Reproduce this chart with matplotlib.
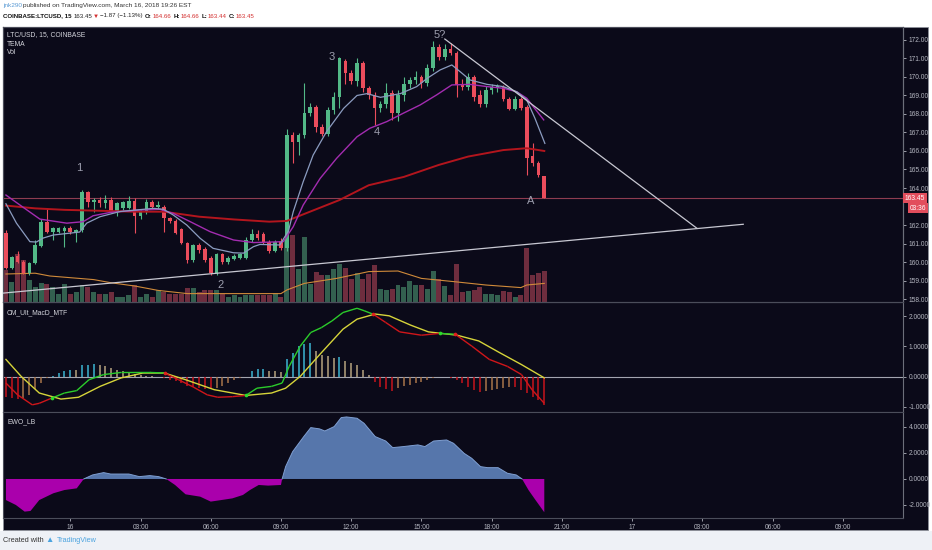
import numpy as np
import matplotlib
matplotlib.use("Agg")
import matplotlib.pyplot as plt
from matplotlib import font_manager
from matplotlib.collections import LineCollection
from matplotlib.patches import Rectangle
import matplotlib.transforms as mtrans

installed = {f.name for f in font_manager.fontManager.ttflist}
NARROW = "Liberation Sans Narrow" if "Liberation Sans Narrow" in installed else "Liberation Sans"
plt.rcParams['font.family'] = ['Liberation Sans', 'DejaVu Sans']

# ---- LTC/USD 15 min candles (bar 0 = 21:15 on March 15)
bar_open = [161.55, 159.68, 160.33, 160.02, 159.42, 159.96, 160.88, 162.18, 161.64, 161.64,
            161.68, 161.84, 161.64, 161.73, 163.80, 163.24, 163.35, 163.21, 163.35, 162.76,
            162.90, 162.90, 163.30, 162.50, 162.72, 163.26, 162.97, 162.99, 162.36, 162.22,
            161.78, 161.05, 160.11, 160.92, 160.70, 160.20, 159.39, 160.41, 160.02, 160.18,
            160.23, 160.23, 161.19, 161.50, 161.50, 161.06, 160.61, 161.15, 160.74, 166.86,
            166.49, 166.86, 168.05, 168.38, 167.30, 166.92, 168.22, 168.92, 170.86, 170.22,
            169.78, 170.76, 169.40, 169.03, 168.32, 168.54, 169.14, 168.05, 169.03, 169.62,
            169.84, 170.00, 169.68, 170.49, 171.62, 171.08, 171.51, 171.30, 169.57, 169.45,
            170.00, 169.03, 168.54, 169.30, 169.40, 169.46, 168.81, 168.27, 168.81, 168.38,
            165.73, 165.35, 164.66]
bar_high = [161.75, 160.35, 160.60, 160.10, 160.00, 161.20, 162.30, 162.90, 161.90, 161.90,
            161.95, 161.95, 161.80, 163.90, 163.85, 163.45, 163.50, 163.62, 163.50, 163.25,
            163.30, 163.55, 163.45, 162.80, 163.40, 163.35, 163.30, 163.10, 162.45, 162.30,
            161.85, 161.10, 161.00, 161.05, 160.80, 160.30, 160.50, 160.50, 160.35, 160.45,
            160.50, 161.35, 161.80, 161.75, 161.60, 161.20, 161.20, 161.30, 167.20, 167.00,
            166.95, 169.68, 168.60, 168.50, 167.45, 168.40, 169.20, 171.10, 170.95, 170.40,
            171.03, 170.85, 169.50, 169.20, 168.70, 169.70, 169.30, 169.30, 170.00, 170.00,
            170.30, 170.10, 170.70, 171.95, 171.80, 171.80, 171.85, 171.40, 169.90, 170.20,
            170.10, 169.30, 169.50, 169.60, 169.60, 169.55, 168.90, 168.95, 168.90, 168.50,
            166.43, 165.45, 164.66]
bar_low = [159.60, 159.60, 159.95, 159.35, 159.30, 159.90, 160.80, 161.55, 161.20, 161.55,
           160.83, 161.50, 161.10, 161.60, 163.00, 162.70, 163.00, 162.90, 162.70, 162.50,
           162.80, 162.85, 161.55, 162.30, 162.60, 162.90, 162.85, 161.64, 162.10, 161.50,
           160.95, 159.95, 160.00, 160.50, 160.00, 159.30, 159.30, 159.90, 159.90, 160.10,
           160.15, 160.15, 161.10, 161.20, 161.00, 160.50, 160.55, 160.65, 160.60, 165.35,
           165.78, 166.70, 167.90, 167.00, 166.80, 166.80, 168.00, 168.30, 169.60, 169.60,
           169.50, 169.20, 168.80, 167.40, 168.10, 168.30, 167.70, 167.60, 168.70, 169.40,
           169.60, 169.40, 169.50, 170.30, 170.90, 170.90, 171.20, 168.90, 169.30, 169.30,
           168.70, 168.40, 168.40, 169.10, 169.20, 168.70, 168.20, 168.20, 168.20, 164.70,
           165.20, 164.60, 163.44]
bar_close = [159.68, 160.29, 160.02, 159.42, 159.96, 160.92, 162.18, 161.64, 161.82, 161.82,
             161.86, 161.62, 161.73, 163.80, 163.26, 163.35, 163.21, 163.35, 162.76, 163.21,
             163.22, 163.30, 162.50, 162.72, 163.26, 162.99, 163.08, 162.36, 162.22, 161.59,
             161.05, 160.11, 160.92, 160.65, 160.11, 159.39, 160.41, 160.02, 160.23, 160.35,
             160.41, 161.19, 161.50, 161.32, 161.08, 160.61, 161.06, 160.74, 166.86, 166.49,
             166.86, 168.05, 168.38, 167.30, 166.92, 168.22, 168.92, 171.03, 170.22, 169.78,
             170.76, 169.40, 169.03, 168.32, 168.54, 169.14, 168.05, 169.03, 169.62, 169.84,
             170.00, 169.68, 170.49, 171.62, 171.08, 171.51, 171.30, 169.57, 169.45, 170.00,
             168.92, 168.54, 169.30, 169.46, 169.50, 168.81, 168.27, 168.81, 168.32, 165.62,
             165.35, 164.70, 163.45]
volume = [800, 500, 1200, 1050, 550, 375, 475, 450, 375, 200,
          450, 200, 250, 425, 375, 250, 200, 200, 250, 125,
          125, 175, 425, 125, 200, 125, 300, 250, 200, 200,
          200, 350, 350, 250, 300, 300, 300, 200, 125, 175,
          125, 175, 175, 175, 175, 175, 225, 125, 1575, 1675,
          825, 1625, 450, 750, 675, 675, 825, 950, 850, 575,
          725, 575, 700, 925, 325, 300, 325, 425, 375, 525,
          425, 425, 325, 775, 575, 400, 175, 950, 250, 275,
          300, 375, 200, 200, 175, 275, 250, 125, 175, 1350,
          675, 725, 775]

# volume moving average (bar, value)
vol_ma_bar = [0, 5, 7.5, 15, 18, 22, 26, 31, 47, 48, 51, 56.5, 62, 67, 71, 76.5, 82, 88, 89, 92]
vol_ma = [700, 720, 650, 560, 480, 400, 290, 210, 210, 300, 465, 590, 760, 775, 590, 510, 425, 360, 425, 465]

# TEMA lines (bar, price)
fast_bar = [0, 1.8, 4.1, 5.2, 6.4, 8.1, 12.6, 13.8, 16.1, 19.5, 25.2, 26.9, 28.6, 30.9, 33.2, 35.4,
            38.9, 40.6, 42.3, 43.4, 46.8, 48.3, 49.1, 50.8, 52.5, 54.8, 57.7, 60, 61.7, 64, 67.4,
            70.2, 72, 74.2, 76.2, 77.6, 79.3, 82.2, 85, 87.3, 89, 90.4, 92.1]
fast_val = [163.15, 162.1, 161.1, 161.08, 161.3, 161.46, 161.62, 162.1, 162.45, 162.73, 162.9, 162.85,
            162.54, 162.0, 161.28, 160.74, 160.5, 160.48, 160.83, 160.95, 160.92, 161.7, 162.72,
            164.34, 165.78, 167.05, 168.3, 169.0, 169.1, 168.9, 169.1, 169.48, 169.93, 170.38,
            170.65, 170.29, 169.84, 169.6, 169.48, 169.2, 168.76, 167.77, 166.41]
mid_bar = [0, 3.6, 5.8, 10.4, 13.2, 14.9, 17.8, 22.9, 26.3, 28.6, 31.5, 34.9, 38.9, 42.3, 47.4,
           49.1, 50.8, 53.7, 56.5, 60, 62.2, 65.1, 67.9, 70.8, 73.6, 76.2, 79.3, 82.2, 85, 87.3, 89, 91.9]
mid_val = [163.62, 162.81, 162.32, 162.1, 162.18, 162.5, 162.68, 162.81, 162.85, 162.63,
           162.18, 161.64, 161.19, 161.05, 161.1, 161.91, 163.08, 164.52, 165.6, 166.77, 167.23,
           167.59, 168.04, 168.49, 169.03, 169.57, 169.6, 169.48, 169.39, 169.2, 168.85, 167.68]
slow_bar = [0, 5, 10, 22, 27, 33, 39, 45, 48, 51, 57, 62, 68, 74, 79, 85, 89, 92]
slow_val = [163.05, 162.9, 162.82, 162.72, 162.72, 162.45, 162.3, 162.18, 162.22, 162.6, 163.35,
            164.15, 164.6, 165.25, 165.7, 166.05, 166.15, 166.0]

# drawn trend lines (bar, price)
support_bar = [-0.5, 126]
support_val = [158.32, 162.04]
resist_bar = [75.0, 118.1]
resist_val = [172.05, 161.82]

# wave labels
wave_text = ["1", "2", "3", "4", "5?", "A"]
wave_bar = [12.6, 36.6, 55.7, 63.4, 74.2, 89.7]
wave_val = [165.08, 158.76, 171.08, 167.0, 172.27, 163.3]

# CM_Ult_MacD_MTF
macd_bar = [0, 2, 4.5, 5.7, 7.8, 10, 12.1, 14.2, 16.7, 19.7, 24.6, 27.1, 29.5, 32, 34.4, 36.2, 38.7,
            41, 42.9, 45.4, 47.2, 48.4, 50.3, 52.1, 53.9, 55.7, 57.6, 60, 61.2, 62.8, 64.9, 67.3,
            71, 74.1, 76.8, 79.6, 82.6, 85.7, 88.1, 89.9, 92]
macd_val = [-0.21, -0.6, -0.93, -0.88, -0.71, -0.54, -0.46, -0.1, 0.07, 0.14, 0.14, 0.12, -0.1,
            -0.34, -0.6, -0.68, -0.66, -0.62, -0.38, -0.32, -0.21, 0.34, 1.01, 1.46, 1.62, 1.84,
            2.12, 2.26, 2.18, 2.06, 1.79, 1.48, 1.37, 1.43, 1.4, 1.01, 0.57, 0.34, 0.07, -0.43, -0.88]
signal_bar = [0, 2.6, 5.7, 9.4, 12.4, 16.1, 19.7, 23.4, 27.1, 30.7, 35.6, 41, 45.4, 47.8, 50.3,
              53.9, 57.6, 60, 63.1, 65.5, 69.2, 72.2, 77.1, 80.8, 84.4, 88.1, 92]
signal_val = [0.57, 0.01, -0.54, -0.74, -0.68, -0.32, -0.04, 0.12, 0.12, -0.1, -0.43, -0.62,
              -0.54, -0.38, 0.01, 0.79, 1.57, 1.9, 2.07, 2.01, 1.7, 1.48, 1.37, 1.18, 0.79, 0.4, -0.04]
cross_bar = [7.8, 27.1, 41, 62.8, 74.1, 76.8]
cross_up = [True, False, True, False, True, False]
hist_val = [-0.66, -0.70, -0.75, -0.70, -0.60, -0.40, -0.20, -0.05, 0.03, 0.12,
            0.20, 0.23, 0.23, 0.37, 0.40, 0.42, 0.40, 0.34, 0.29, 0.21,
            0.18, 0.14, 0.10, 0.07, 0.03, 0.01, -0.02, -0.05, -0.10, -0.15,
            -0.22, -0.30, -0.35, -0.38, -0.40, -0.42, -0.38, -0.30, -0.20, -0.12,
            -0.05, 0.00, 0.18, 0.26, 0.27, 0.20, 0.20, 0.17, 0.57, 0.79,
            1.01, 1.08, 1.12, 0.84, 0.73, 0.68, 0.62, 0.66, 0.51, 0.46,
            0.37, 0.23, 0.07, -0.16, -0.34, -0.41, -0.46, -0.38, -0.32, -0.27,
            -0.21, -0.16, -0.10, -0.04, -0.01, 0.00, -0.03, -0.10, -0.21, -0.34,
            -0.43, -0.49, -0.48, -0.45, -0.41, -0.38, -0.35, -0.35, -0.43, -0.54,
            -0.66, -0.77, -0.93]

# EWO_LB
ewo_bar = [0, 1.7, 3.2, 4.2, 5.7, 8.1, 10, 12.1, 13.3, 14.8, 16.7, 17.9, 21, 22.8, 24.6, 26.1,
           27.4, 28.9, 30.7, 33.2, 35, 36.8, 38.7, 40.5, 41.7, 43.2, 44.8, 47, 47.2, 47.8, 49,
           50.9, 52.1, 53.6, 54.5, 56.1, 57.3, 58.2, 60, 61.2, 63.1, 64.9, 66.1, 67.9, 70.4,
           71.6, 73.1, 75.3, 76.5, 78.3, 79.6, 81.1, 82.3, 84.1, 85.7, 87.2, 88.2, 89.3, 90.5, 92]
ewo_val = [-1.62, -2.0, -2.51, -2.46, -1.62, -1.1, -0.85, -0.72, 0.0, 0.31, 0.49, 0.38, 0.38,
           0.18, 0.26, 0.18, 0.0, -0.46, -1.18, -1.36, -1.74, -1.62, -1.49, -1.23, -0.85, -0.46,
           -0.51, -0.46, 0.0, 0.95, 2.1, 3.26, 3.95, 3.85, 3.69, 4.03, 4.72, 4.77, 4.67, 4.28,
           3.26, 2.92, 2.41, 2.49, 2.62, 2.49, 2.92, 3.0, 2.74, 1.97, 1.59, 0.95, 0.87, 0.87,
           0.44, 0.31, 0.0, -0.85, -1.62, -2.56]

# time axis: hours from midnight March 16, first bar at 21:15 the day before
tick_hours = [0, 3, 6, 9, 12, 15, 18, 21, 24, 27, 30, 33]
tick_text = ["16", "03:00", "06:00", "09:00", "12:00", "15:00", "18:00", "21:00", "17", "03:00", "06:00", "09:00"]
first_bar_hour = -2.75

# price scale labels (163.00 sits under the last-price boxes)
price_ticks = [158, 159, 160, 161, 162, 164, 165, 166, 167, 168, 169, 170, 171, 172]
last_price = 163.45

BG = "#0b0a19"
GRID = "#4b4d5a"
TXT = "#b4b6c0"
UP = "#53b987"
DN = "#eb4d5c"

W, H = 932, 550
def fx(x):
    return x / W
def fy(y):
    return 1 - y / H

fig = plt.figure(figsize=(9.32, 5.5), dpi=100, facecolor="white")
fig.patches.append(Rectangle((fx(3), fy(530)), fx(925), 503 / H, transform=fig.transFigure,
                             facecolor=BG, edgecolor="#8d909a", lw=0.6, zorder=-5))
fig.patches.append(Rectangle((0, 0), 1, 19 / H, transform=fig.transFigure,
                             facecolor="#eef1f6", edgecolor="none", zorder=-5))

ax = fig.add_axes([fx(3), fy(302), 900 / W, 275 / H])
ax_m = fig.add_axes([fx(3), fy(412), 900 / W, 110 / H], sharex=ax)
ax_e = fig.add_axes([fx(3), fy(518), 900 / W, 106 / H], sharex=ax)
ax_v = ax.twinx()
ax.set_zorder(ax_v.get_zorder() + 1)
ax.patch.set_visible(False)
ax_v.patch.set_visible(True)
ax_v.set_facecolor(BG)

for a in (ax, ax_m, ax_e, ax_v):
    a.set_facecolor(BG)
    for s in a.spines.values():
        s.set_color(GRID)
        s.set_linewidth(0.8)
    a.spines["right"].set_color("#6c6f7a")

x = np.arange(len(bar_open))
o = np.array(bar_open)
c = np.array(bar_close)
up = c >= o
col = np.where(up, UP, DN)

# volume
vol_col = np.where(up, "#33604f", "#6e2d3e")
ax_v.bar(x, volume, width=0.85, color=vol_col, linewidth=0)
ax_v.plot(vol_ma_bar, vol_ma, color="#d08a3a", lw=0.8)
ax_v.set_ylim(0, 6875)
ax_v.set_yticks([])

# candles
ax.vlines(x, bar_low, bar_high, colors=col, lw=0.8, zorder=3)
ax.bar(x, np.maximum(np.abs(c - o), 0.04), bottom=np.minimum(o, c), width=0.62,
       color=col, linewidth=0, zorder=4)

ax.axhline(last_price, color="#8e3c50", lw=0.8, zorder=2)
ax.plot(slow_bar, slow_val, color="#b3151d", lw=1.4, zorder=5)
ax.plot(mid_bar, mid_val, color="#a32cb0", lw=1.0, zorder=5)
ax.plot(fast_bar, fast_val, color="#8b9cc0", lw=0.9, zorder=5)
ax.plot(support_bar, support_val, color="#c8c8d2", lw=0.9, zorder=6)
ax.plot(resist_bar, resist_val, color="#c8c8d2", lw=0.9, zorder=6)
for t, bx, by in zip(wave_text, wave_bar, wave_val):
    ax.text(bx, by, t, color="#9d9eae", fontsize=8, ha="center", va="center", zorder=7)

ax.set_xlim(-0.5, 153.3)
ax.set_ylim(157.84, 172.70)
ax.yaxis.tick_right()
ax.set_yticks(price_ticks)
ax.yaxis.set_major_formatter(matplotlib.ticker.FormatStrFormatter("%.2f"))

# price labels on the axis
tr = mtrans.blended_transform_factory(ax.transAxes, ax.transData)
ax.text(1.002, last_price, f"{last_price:.2f}", transform=tr, color="white", fontsize=4.8,
        va="center", ha="left", zorder=10,
        bbox=dict(boxstyle="square,pad=0.25", facecolor="#e24d5c", edgecolor="none"))
ax.annotate("03:36", xy=(1.0, last_price), xycoords=tr, xytext=(7, -10), textcoords="offset pixels",
            color="white", fontsize=4.8, va="center", ha="left", zorder=10, annotation_clip=False,
            bbox=dict(boxstyle="square,pad=0.25", facecolor="#e24d5c", edgecolor="none"))

# MACD
ax_m.axhline(0, color="#a4a5b0", lw=0.8)
hist = np.array(hist_val)
prev = np.concatenate([[hist[0]], hist[:-1]])
rising = hist > prev
hcol = np.where(hist >= 0, np.where(rising, "#3cb5d3", "#b7a37f"),
                np.where(rising, "#a8744a", "#c8141c"))
ax_m.vlines(x, 0, hist, colors=hcol, lw=1.1)
ax_m.plot(signal_bar, signal_val, color="#d6d43a", lw=1.0)
segs, scol = [], []
for k in range(len(macd_bar) - 1):
    segs.append([(macd_bar[k], macd_val[k]), (macd_bar[k + 1], macd_val[k + 1])])
    n = sum(1 for cb in cross_bar if cb <= macd_bar[k] + 1e-6)
    scol.append("#2bcc2b" if n % 2 == 1 else "#d0161a")
ax_m.add_collection(LineCollection(segs, colors=scol, linewidths=1.0))
for cb, cu in zip(cross_bar, cross_up):
    cy = macd_val[macd_bar.index(cb)]
    ax_m.scatter([cb], [cy], s=7, color="#2bdc2b" if cu else "#e0201c", zorder=5, linewidths=0)
ax_m.set_ylim(-1.167, 2.467)
ax_m.yaxis.tick_right()
ax_m.set_yticks([-1, 0, 1, 2])
ax_m.yaxis.set_major_formatter(matplotlib.ticker.FormatStrFormatter("%.4f"))

# EWO
ev = np.array(ewo_val)
ax_e.fill_between(ewo_bar, ev, 0, where=ev >= 0, interpolate=True, color="#5676ab", linewidth=0)
ax_e.fill_between(ewo_bar, ev, 0, where=ev <= 0, interpolate=True, color="#aa00ac", linewidth=0)
pos = np.where(ev >= 0, ev, np.nan)
ax_e.plot(ewo_bar, pos, color="#7f9fd2", lw=0.7)
ax_e.set_ylim(-3.0, 5.15)
ax_e.yaxis.tick_right()
ax_e.set_yticks([-2, 0, 2, 4])
ax_e.yaxis.set_major_formatter(matplotlib.ticker.FormatStrFormatter("%.4f"))

tick_pos = [(h - first_bar_hour) * 4 for h in tick_hours]
ax_e.set_xticks(tick_pos)
ax_e.set_xticklabels(tick_text)
for a in (ax, ax_m):
    a.tick_params(axis="x", bottom=False, labelbottom=False)
for a in (ax, ax_m, ax_e):
    a.tick_params(axis="y", colors=TXT, labelsize=4.8, length=2, width=0.6, pad=2)
ax_e.tick_params(axis="x", colors=TXT, labelsize=4.8, length=2, width=0.6, pad=2)

# panel titles
for ty, tt in [(35, "LTC/USD, 15, COINBASE"), (44, "TEMA"), (53, "Vol"),
               (313, "CM_Ult_MacD_MTF"), (422, "EWO_LB")]:
    fig.text(fx(7), fy(ty), tt, color="#d4d5dc", fontsize=4.9, va="center")

# header: pieces laid out one after another, scaled to the reference width
renderer = fig.canvas.get_renderer()

def text_row(pieces, y, size, target_right):
    made = []
    cur = 3.0
    for txt, colr, wt, gap in pieces:
        t = fig.text(fx(cur), fy(y), txt, color=colr, fontsize=size, fontweight=wt,
                     va="center", family=[NARROW, "DejaVu Sans"])
        bb = t.get_window_extent(renderer)
        cur = bb.x1 + gap
        made.append(t)
    width = cur - 3.0
    scale = (target_right - 3.0) / width
    cur = 3.0
    for t, (txt, colr, wt, gap) in zip(made, pieces):
        t.set_fontsize(size * scale)
        t.set_x(fx(cur))
        bb = t.get_window_extent(renderer)
        cur = bb.x1 + gap * scale

line1 = [("jnk290", "#5b9bd5", "normal", 2),
         ("published on TradingView.com, March 16, 2018 19:26 EST", "#333333", "normal", 0)]
line2 = [("COINBASE:LTCUSD, 15", "#111111", "bold", 3), ("163.45", "#222222", "normal", 1),
         ("\u25bc", "#d32f2f", "normal", 1), ("\u22121.87 (\u22121.13%)", "#222222", "normal", 3),
         ("O:", "#111111", "bold", 1), ("164.66", "#d32f2f", "normal", 3),
         ("H:", "#111111", "bold", 1), ("164.66", "#d32f2f", "normal", 3),
         ("L:", "#111111", "bold", 1), ("163.44", "#d32f2f", "normal", 3),
         ("C:", "#111111", "bold", 1), ("163.45", "#d32f2f", "normal", 0)]
text_row(line1, 6, 6.2, 193)
text_row(line2, 16, 6.2, 257)

fig.text(fx(3), fy(540), "Created with", color="#333333", fontsize=5.2, va="center")
fig.text(fx(45), fy(540), "\u25b2", color="#4aa3df", fontsize=6, va="center")
fig.text(fx(57), fy(540), "TradingView", color="#4aa3df", fontsize=5.2, va="center")

fig.savefig("out.png", dpi=100, facecolor=fig.get_facecolor())
